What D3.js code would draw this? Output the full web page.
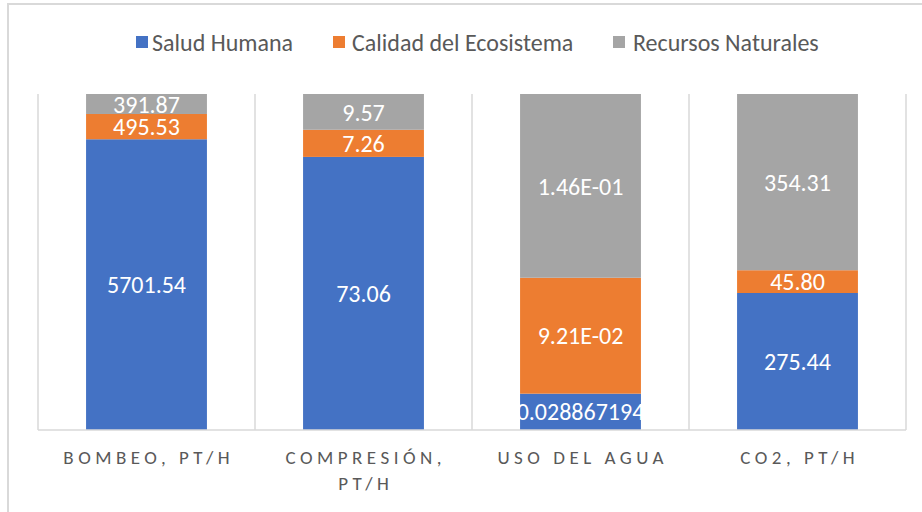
<!DOCTYPE html>
<html>
<head>
<meta charset="utf-8">
<script src="https://cdn.jsdelivr.net/npm/d3@7"></script>
<style>
  html, body { margin: 0; padding: 0; background: #fff; }
  svg { display: block; }
</style>
</head>
<body>
<svg id="chart" width="922" height="512"></svg>
<script>
// Categories (axis labels, split into lines) and series values
const categories = ["BOMBEO, PT/H", "COMPRESIÓN, PT/H", "USO DEL AGUA", "CO2, PT/H"];
const categoryLines = [["BOMBEO, PT/H"], ["COMPRESIÓN,", "PT/H"], ["USO DEL AGUA"], ["CO2, PT/H"]];
const seriesNames = ["Salud Humana", "Calidad del Ecosistema", "Recursos Naturales"];
const saludHumana = [5701.54, 73.06, 0.028867194, 275.44];
const calidadEcosistema = [495.53, 7.26, 0.0921, 45.80];
const recursosNaturales = [391.87, 9.57, 0.146, 354.31];
const labelText = [
  ["5701.54", "73.06", "0.028867194", "275.44"],
  ["495.53", "7.26", "9.21E-02", "45.80"],
  ["391.87", "9.57", "1.46E-01", "354.31"]
];
const colors = ["#4472C4", "#ED7D31", "#A5A5A5"];

const font = "Carlito, Lato, 'Open Sans', sans-serif";
const svg = d3.select("#chart");

// Outer chart border
svg.append("rect")
  .attr("x", 8).attr("y", 4)
  .attr("width", 930).attr("height", 530)
  .attr("fill", "none").attr("stroke", "#d9d9d9").attr("stroke-width", 2);

const plot = { left: 38, right: 906, top: 94, bottom: 430 };

const x = d3.scaleBand()
  .domain(categories)
  .range([plot.left, plot.right])
  .paddingInner(0.443)
  .paddingOuter(0.2215);

const y = d3.scaleLinear().domain([0, 1]).range([plot.bottom, plot.top]);

// Build table for 100% stacking
const rows = categories.map((c, i) => {
  const total = saludHumana[i] + calidadEcosistema[i] + recursosNaturales[i];
  return {
    cat: c,
    s0: saludHumana[i] / total,
    s1: calidadEcosistema[i] / total,
    s2: recursosNaturales[i] / total
  };
});
const stacked = d3.stack().keys(["s0", "s1", "s2"])(rows);

// Vertical gridlines at category boundaries
const step = (plot.right - plot.left) / categories.length;
const bounds = d3.range(categories.length + 1).map(i => plot.left + i * step);
svg.append("g").selectAll("line").data(bounds).join("line")
  .attr("x1", d => d).attr("x2", d => d)
  .attr("y1", plot.top).attr("y2", plot.bottom)
  .attr("stroke", "#d9d9d9").attr("stroke-width", 1.5);

// Bars
const layers = svg.append("g").selectAll("g").data(stacked).join("g")
  .attr("fill", (d, i) => colors[i]);
layers.selectAll("rect").data(d => d).join("rect")
  .attr("x", d => x(d.data.cat))
  .attr("width", x.bandwidth())
  .attr("y", d => y(d[1]))
  .attr("height", d => y(d[0]) - y(d[1]));

// Data labels
stacked.forEach((layer, si) => {
  svg.append("g").selectAll("text").data(layer).join("text")
    .attr("x", d => x(d.data.cat) + x.bandwidth() / 2)
    .attr("y", d => (y(d[0]) + y(d[1])) / 2)
    .attr("dy", "0.36em")
    .attr("text-anchor", "middle")
    .attr("fill", "#fff")
    .attr("font-family", font)
    .attr("font-size", 24)
    .text((d, i) => labelText[si][i]);
});

// Category axis line
svg.append("line")
  .attr("x1", plot.left).attr("x2", plot.right)
  .attr("y1", plot.bottom).attr("y2", plot.bottom)
  .attr("stroke", "#d9d9d9").attr("stroke-width", 1.5);

// Category labels
const spacing = 4.5;
const axisLabels = svg.append("g").selectAll("text").data(categories).join("text")
  .attr("x", d => x(d) + x.bandwidth() / 2)
  .attr("y", 464)
  .attr("text-anchor", "middle")
  .attr("fill", "#595959")
  .attr("font-family", font)
  .attr("font-size", 19)
  .attr("letter-spacing", spacing + "px");
axisLabels.each(function(d, i) {
  d3.select(this).selectAll("tspan").data(categoryLines[i]).join("tspan")
    .attr("x", x(d) + x.bandwidth() / 2 + spacing / 2)
    .attr("dy", (t, j) => j === 0 ? 0 : 26)
    .text(t => t);
});

// Legend
const legendX = [136, 333, 613];
const legendTextX = [16, 19, 20];
const legend = svg.append("g").selectAll("g").data(seriesNames).join("g")
  .attr("transform", (d, i) => `translate(${legendX[i]},36)`);
legend.append("rect")
  .attr("width", 12).attr("height", 12)
  .attr("fill", (d, i) => colors[i]);
legend.append("text")
  .attr("x", (d, i) => legendTextX[i]).attr("y", 6)
  .attr("dy", "0.36em")
  .attr("fill", "#595959")
  .attr("font-family", font)
  .attr("font-size", 24)
  .text(d => d);
</script>
</body>
</html>
